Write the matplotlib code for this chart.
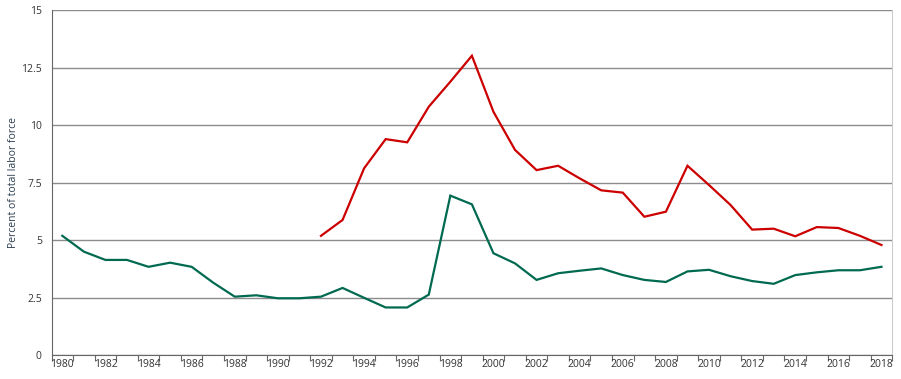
import matplotlib
matplotlib.use("Agg")
import matplotlib.pyplot as plt
import numpy as np

plt.rcParams['font.family'] = ['Open Sans', 'DejaVu Sans']

# yillar
years = list(range(1980, 2019))

# yesil seri (1980-2018)
green = [5.19, 4.50, 4.14, 4.14, 3.84, 4.02, 3.84, 3.15, 2.54, 2.60,
         2.47, 2.47, 2.54, 2.92, 2.49, 2.07, 2.07, 2.63, 6.94, 6.56,
         4.43, 3.99, 3.27, 3.56, 3.67, 3.77, 3.48, 3.27, 3.18, 3.64,
         3.71, 3.43, 3.22, 3.10, 3.48, 3.60, 3.69, 3.69, 3.84]

# kirmizi seri (1992-2018)
red_years = list(range(1992, 2019))
red = [5.19, 5.88, 8.13, 9.40, 9.26, 10.81, 11.90, 13.03, 10.59, 8.93,
       8.05, 8.24, 7.69, 7.17, 7.07, 6.02, 6.24, 8.24, 7.40, 6.53,
       5.46, 5.50, 5.17, 5.57, 5.53, 5.19, 4.79]

y_ticks = [0, 2.5, 5, 7.5, 10, 12.5, 15]
y_labels = ["0", "2.5", "5", "7.5", "10", "12.5", "15"]

fig = plt.figure(figsize=(9.01, 3.79), dpi=100)
ax = fig.add_axes([0.0572, 0.0633, 0.9331, 0.909])

xg = np.arange(len(years))
xr = np.array([years.index(y) for y in red_years])

ax.plot(xg, green, color="#006a50", lw=1.6, solid_joinstyle="miter")
ax.plot(xr, red, color="#cc0000", lw=1.6, solid_joinstyle="miter")

ax.set_xlim(-0.5, len(years) - 0.5)
ax.set_ylim(0, 15)

# yatay izgara
ax.set_yticks(y_ticks)
ax.set_yticklabels(y_labels)
ax.yaxis.grid(True, color="#8c8c8c", lw=1)
ax.set_axisbelow(True)
ax.tick_params(axis="y", length=0, pad=7, labelsize=7.5, labelcolor="#333333")

# kategori siniri tikleri ve etiketler
ax.set_xticks(np.arange(-0.5, len(years), 1.0))
ax.set_xticklabels([])
ax.set_xticks(xg[::2], minor=True)
ax.set_xticklabels([str(y) for y in years[::2]], minor=True)
ax.tick_params(axis="x", which="major", length=4, color="#666666", direction="out")
ax.tick_params(axis="x", which="minor", length=0, pad=3, labelsize=7.5, labelcolor="#333333")

ax.spines["top"].set_visible(False)
ax.spines["left"].set_color("#666666")
ax.spines["bottom"].set_color("#666666")
ax.spines["right"].set_color("#cccccc")

ax.set_ylabel("Percent of total labor force", fontsize=7.5, color="#2c3e50")
ax.yaxis.set_label_coords(-0.039, 0.5)

fig.savefig("out.png", dpi=100)
